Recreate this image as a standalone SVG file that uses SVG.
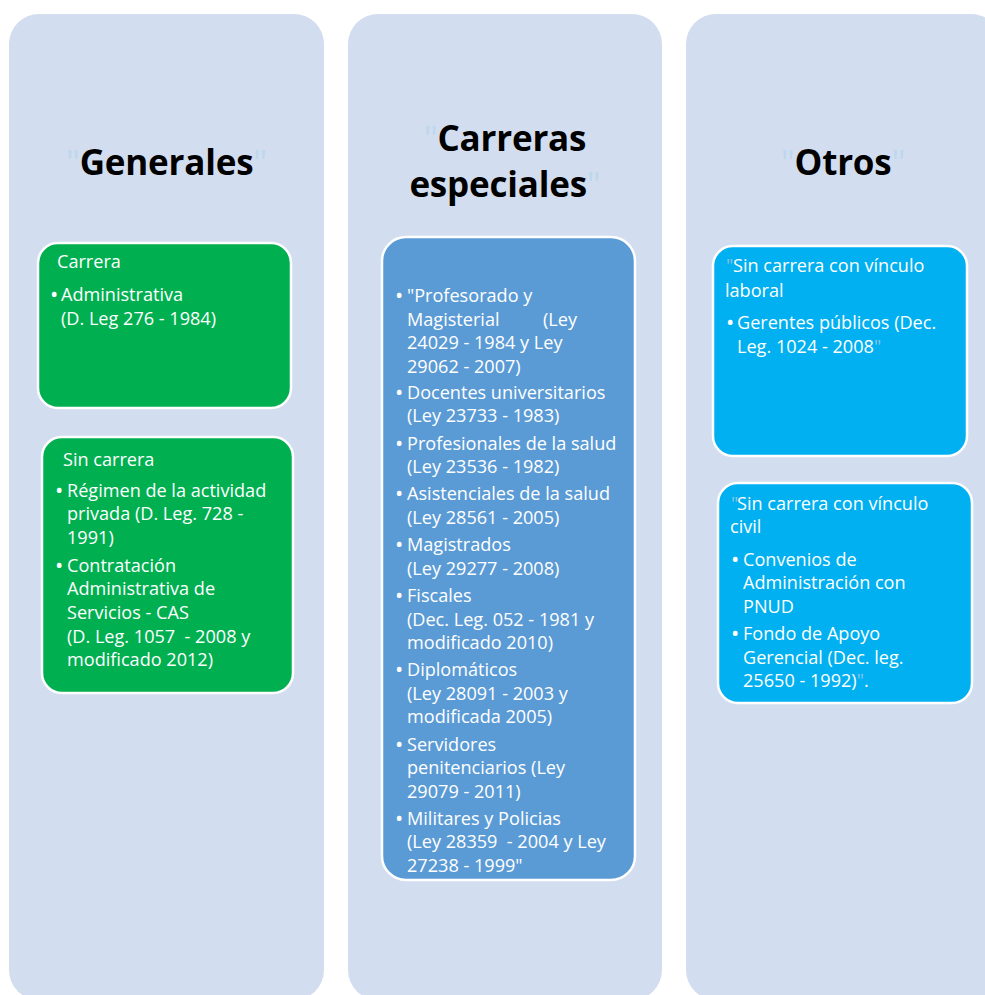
<svg xmlns="http://www.w3.org/2000/svg" width="985" height="995" viewBox="0 0 985 995">
<style>
.panel{fill:#D2DEEF}
.box{stroke:#FFFFFF;stroke-width:2.5}
.green{fill:#00B050}
.blue{fill:#5B9BD5}
.cyan{fill:#00B0F0}
.hdr{font-family:"Open Sans",Lato,sans-serif;font-weight:bold;font-size:35px;letter-spacing:-0.2px;fill:#000;text-anchor:middle}
.q{fill:#BDD7EE;font-weight:normal}
.t{font-family:"Open Sans",Lato,sans-serif;font-size:18.1px;fill:#FFFFFF}
.b{font-size:22px}
.fq{fill:#8FC3EA}
</style>
<rect width="985" height="995" fill="#FFFFFF"/>
<g id="col-generales">
<rect class="panel" x="9" y="14" width="315" height="986" rx="30"/>
<text class="hdr" x="166.5" y="175"><tspan class="q">"</tspan>Generales<tspan class="q">"</tspan></text>
</g>
<g id="col-carreras">
<rect class="panel" x="348" y="14" width="314" height="986" rx="30"/>
<text class="hdr" x="505" y="151"><tspan class="q">"</tspan>Carreras</text>
<text class="hdr" x="505" y="197">especiales<tspan class="q">"</tspan></text>
</g>
<g id="col-otros">
<rect class="panel" x="686" y="14" width="315" height="986" rx="30"/>
<text class="hdr" x="843" y="175"><tspan class="q">"</tspan>Otros<tspan class="q">"</tspan></text>
</g>
<g id="node-carrera">
<rect class="box green" x="38" y="243" width="253" height="165" rx="20"/>
<text class="t"><tspan x="57" y="268">Carrera</tspan><tspan class="b" x="50" y="302">•</tspan><tspan x="61" y="301">Administrativa</tspan><tspan x="61" y="325">(D. Leg 276 - 1984)</tspan></text>
</g>
<g id="node-sin-carrera">
<rect class="box green" x="42" y="437" width="251" height="256" rx="20"/>
<text class="t"><tspan x="63" y="466">Sin carrera</tspan><tspan class="b" x="55" y="498">•</tspan><tspan x="67" y="497">Régimen de la actividad</tspan><tspan x="67" y="520">privada (D. Leg. 728 -</tspan><tspan x="67" y="544">1991)</tspan><tspan class="b" x="55" y="573">•</tspan><tspan x="67" y="572">Contratación</tspan><tspan x="67" y="595">Administrativa de</tspan><tspan x="67" y="619">Servicios - CAS</tspan><tspan x="67" y="643">(D. Leg. 1057 &#160;- 2008 y</tspan><tspan x="67" y="666">modificado 2012)</tspan></text>
</g>
<g id="node-especiales">
<rect class="box blue" x="382" y="237" width="253" height="643" rx="24"/>
<text class="t">
<tspan class="b" x="395" y="303">•</tspan><tspan x="407" y="302">"Profesorado y</tspan>
<tspan x="407" y="326">Magisterial</tspan><tspan x="543" y="326">(Ley</tspan>
<tspan x="407" y="349">24029 - 1984 y Ley</tspan>
<tspan x="407" y="373">29062 - 2007)</tspan>
<tspan class="b" x="395" y="400">•</tspan><tspan x="407" y="399">Docentes universitarios</tspan>
<tspan x="407" y="422">(Ley 23733 - 1983)</tspan>
<tspan class="b" x="395" y="451">•</tspan><tspan x="407" y="450">Profesionales de la salud</tspan>
<tspan x="407" y="473">(Ley 23536 - 1982)</tspan>
<tspan class="b" x="395" y="501">•</tspan><tspan x="407" y="500">Asistenciales de la salud</tspan>
<tspan x="407" y="524">(Ley 28561 - 2005)</tspan>
<tspan class="b" x="395" y="552">•</tspan><tspan x="407" y="551">Magistrados</tspan>
<tspan x="407" y="575">(Ley 29277 - 2008)</tspan>
<tspan class="b" x="395" y="603">•</tspan><tspan x="407" y="602">Fiscales</tspan>
<tspan x="407" y="626">(Dec. Leg. 052 - 1981 y</tspan>
<tspan x="407" y="649">modificado 2010)</tspan>
<tspan class="b" x="395" y="677">•</tspan><tspan x="407" y="676">Diplomáticos</tspan>
<tspan x="407" y="700">(Ley 28091 - 2003 y</tspan>
<tspan x="407" y="723">modificada 2005)</tspan>
<tspan class="b" x="395" y="752">•</tspan><tspan x="407" y="751">Servidores</tspan>
<tspan x="407" y="774">penitenciarios (Ley</tspan>
<tspan x="407" y="798">29079 - 2011)</tspan>
<tspan class="b" x="395" y="826">•</tspan><tspan x="407" y="825">Militares y Policias</tspan>
<tspan x="407" y="848">(Ley 28359 &#160;- 2004 y Ley</tspan>
<tspan x="407" y="872">27238 - 1999"</tspan>
</text>
</g>
<g id="node-laboral">
<rect class="box cyan" x="713" y="246" width="254" height="210" rx="20"/>
<text class="t"><tspan x="726" y="272" class="fq">"</tspan><tspan x="733" y="272">Sin carrera con vínculo</tspan><tspan x="725" y="297">laboral</tspan><tspan class="b" x="726" y="330">•</tspan><tspan x="737" y="329">Gerentes públicos (Dec.</tspan><tspan x="737" y="353">Leg. 1024 - 2008</tspan><tspan class="fq">"</tspan></text>
</g>
<g id="node-civil">
<rect class="box cyan" x="718" y="483" width="254" height="220" rx="20"/>
<text class="t"><tspan x="731" y="510" class="fq">"</tspan><tspan x="737" y="510">Sin carrera con vínculo</tspan><tspan x="730" y="533">civil</tspan><tspan class="b" x="731" y="567">•</tspan><tspan x="743" y="566">Convenios de</tspan><tspan x="743" y="589">Administración con</tspan><tspan x="743" y="613">PNUD</tspan><tspan class="b" x="731" y="641">•</tspan><tspan x="743" y="640">Fondo de Apoyo</tspan><tspan x="743" y="664">Gerencial (Dec. leg.</tspan><tspan x="743" y="687">25650 - 1992)</tspan><tspan class="fq">"</tspan><tspan>.</tspan></text>
</g>
<g id="connectors"/>
</svg>
